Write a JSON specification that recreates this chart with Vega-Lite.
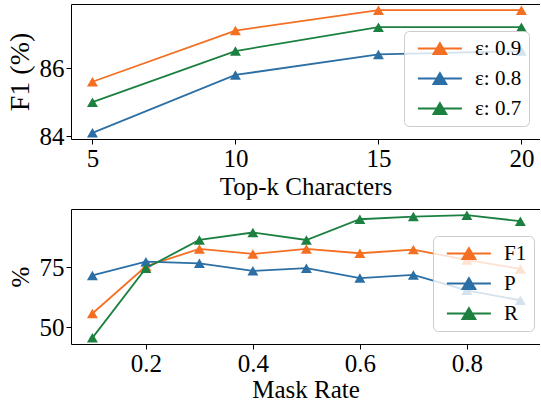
{
  "$schema": "https://vega.github.io/schema/vega-lite/v6.json",
  "padding": {"left": 6, "top": 4, "right": 0, "bottom": 0},
  "spacing": 10,
  "config": {
    "view": {"stroke": null},
    "font": "Liberation Serif, Times New Roman, DejaVu Serif, serif",
    "axis": {
      "grid": false,
      "domainColor": "black",
      "domainWidth": 1,
      "tickColor": "black",
      "tickSize": 5,
      "tickWidth": 1,
      "labelFont": "Liberation Serif, Times New Roman, DejaVu Serif, serif",
      "labelFontSize": 25,
      "labelColor": "black",
      "labelPadding": 2,
      "titleFont": "Liberation Serif, Times New Roman, DejaVu Serif, serif",
      "titleFontSize": 25,
      "titleFontWeight": "normal",
      "titleColor": "black"
    },
    "legend": {
      "labelFont": "Liberation Serif, Times New Roman, DejaVu Serif, serif",
      "labelFontSize": 21,
      "labelColor": "black",
      "symbolType": "M-0.6,0H6.73M2,0.9L3.07,-0.9L4.13,0.9Z",
      "symbolSize": 144,
      "symbolStrokeWidth": 2,
      "fillColor": "rgba(255,255,255,0.8)",
      "strokeColor": "#cccccc",
      "cornerRadius": 5,
      "padding": 7,
      "rowPadding": 8,
      "labelOffset": 43
    }
  },
  "resolve": {"scale": {"color": "independent"}, "legend": {"color": "independent"}},
  "vconcat": [
    {
      "width": 469,
      "height": 135,
      "data": {"values": [
        {"k": 5, "eps": "ε: 0.9", "f1": 85.6},
        {"k": 10, "eps": "ε: 0.9", "f1": 87.1},
        {"k": 15, "eps": "ε: 0.9", "f1": 87.7},
        {"k": 20, "eps": "ε: 0.9", "f1": 87.7},
        {"k": 5, "eps": "ε: 0.8", "f1": 84.1},
        {"k": 10, "eps": "ε: 0.8", "f1": 85.8},
        {"k": 15, "eps": "ε: 0.8", "f1": 86.4},
        {"k": 20, "eps": "ε: 0.8", "f1": 86.5},
        {"k": 5, "eps": "ε: 0.7", "f1": 85.0},
        {"k": 10, "eps": "ε: 0.7", "f1": 86.5},
        {"k": 15, "eps": "ε: 0.7", "f1": 87.2},
        {"k": 20, "eps": "ε: 0.7", "f1": 87.2}
      ]},
      "resolve": {"axis": {"x": "independent", "y": "independent"}},
      "layer": [
        {
          "mark": {"type": "line", "strokeWidth": 1.8, "point": {"shape": "triangle-up", "size": 120, "filled": true, "opacity": 1}},
          "encoding": {
            "x": {"field": "k", "type": "quantitative", "scale": {"domain": [4.25, 20.65], "nice": false, "zero": false},
                  "axis": {"values": [5, 10, 15, 20], "title": "Top-k Characters", "titlePadding": 3}},
            "y": {"field": "f1", "type": "quantitative", "scale": {"domain": [83.92, 87.88], "nice": false, "zero": false},
                  "axis": {"values": [84, 86], "title": "F1 (%)", "titlePadding": 5, "titleFontSize": 28}},
            "color": {"field": "eps", "type": "nominal",
                      "scale": {"domain": ["ε: 0.9", "ε: 0.8", "ε: 0.7"], "range": ["#f46f22", "#2c6fa5", "#1c8041"]},
                      "legend": {"orient": "none", "legendX": 333, "legendY": 27, "title": null,
                                 "encode": {"symbols": {"update": {
                                   "fill": {"signal": "datum.value === 'ε: 0.9' ? '#f46f22' : datum.value === 'ε: 0.8' ? '#2c6fa5' : '#1c8041'"},
                                   "stroke": {"signal": "datum.value === 'ε: 0.9' ? '#f46f22' : datum.value === 'ε: 0.8' ? '#2c6fa5' : '#1c8041'"},
                                   "opacity": {"value": 1}}}}}}
          }
        },
        {
          "mark": {"type": "point", "opacity": 0},
          "encoding": {
            "x": {"field": "k", "type": "quantitative", "axis": {"orient": "top", "labels": false, "ticks": false, "title": null}},
            "y": {"field": "f1", "type": "quantitative", "axis": {"orient": "right", "labels": false, "ticks": false, "title": null, "domain": false}}
          }
        }
      ]
    },
    {
      "width": 469,
      "height": 135,
      "data": {"values": [
        {"rate": 0.1, "metric": "F1", "v": 55.8},
        {"rate": 0.2, "metric": "F1", "v": 75.4},
        {"rate": 0.3, "metric": "F1", "v": 82.6},
        {"rate": 0.4, "metric": "F1", "v": 80.5},
        {"rate": 0.5, "metric": "F1", "v": 82.6},
        {"rate": 0.6, "metric": "F1", "v": 80.8},
        {"rate": 0.7, "metric": "F1", "v": 82.3},
        {"rate": 0.8, "metric": "F1", "v": 78.0},
        {"rate": 0.9, "metric": "F1", "v": 74.3},
        {"rate": 0.1, "metric": "P", "v": 71.6},
        {"rate": 0.2, "metric": "P", "v": 77.3},
        {"rate": 0.3, "metric": "P", "v": 76.6},
        {"rate": 0.4, "metric": "P", "v": 73.5},
        {"rate": 0.5, "metric": "P", "v": 74.6},
        {"rate": 0.6, "metric": "P", "v": 70.5},
        {"rate": 0.7, "metric": "P", "v": 71.8},
        {"rate": 0.8, "metric": "P", "v": 65.4},
        {"rate": 0.9, "metric": "P", "v": 61.3},
        {"rate": 0.1, "metric": "R", "v": 45.7},
        {"rate": 0.2, "metric": "R", "v": 74.6},
        {"rate": 0.3, "metric": "R", "v": 86.3},
        {"rate": 0.4, "metric": "R", "v": 89.4},
        {"rate": 0.5, "metric": "R", "v": 86.3},
        {"rate": 0.6, "metric": "R", "v": 94.9},
        {"rate": 0.7, "metric": "R", "v": 96.0},
        {"rate": 0.8, "metric": "R", "v": 96.6},
        {"rate": 0.9, "metric": "R", "v": 94.1}
      ]},
      "resolve": {"axis": {"x": "independent", "y": "independent"}},
      "layer": [
        {
          "mark": {"type": "line", "strokeWidth": 1.8, "point": {"shape": "triangle-up", "size": 120, "filled": true, "opacity": 1}},
          "encoding": {
            "x": {"field": "rate", "type": "quantitative", "scale": {"domain": [0.06, 0.9367], "nice": false, "zero": false},
                  "axis": {"values": [0.2, 0.4, 0.6, 0.8], "format": ".1f", "title": "Mask Rate", "titlePadding": 1}},
            "y": {"field": "v", "type": "quantitative", "scale": {"domain": [43.15, 99.15], "nice": false, "zero": false},
                  "axis": {"values": [50, 75], "title": "%", "titlePadding": 6}},
            "color": {"field": "metric", "type": "nominal",
                      "scale": {"domain": ["F1", "P", "R"], "range": ["#f46f22", "#2c6fa5", "#1c8041"]},
                      "legend": {"orient": "none", "legendX": 362, "legendY": 27, "title": null,
                                 "encode": {"symbols": {"update": {
                                   "fill": {"signal": "datum.value === 'F1' ? '#f46f22' : datum.value === 'P' ? '#2c6fa5' : '#1c8041'"},
                                   "stroke": {"signal": "datum.value === 'F1' ? '#f46f22' : datum.value === 'P' ? '#2c6fa5' : '#1c8041'"},
                                   "opacity": {"value": 1}}}}}}
          }
        },
        {
          "mark": {"type": "point", "opacity": 0},
          "encoding": {
            "x": {"field": "rate", "type": "quantitative", "axis": {"orient": "top", "labels": false, "ticks": false, "title": null}},
            "y": {"field": "v", "type": "quantitative", "axis": {"orient": "right", "labels": false, "ticks": false, "title": null, "domain": false}}
          }
        }
      ]
    }
  ]
}
